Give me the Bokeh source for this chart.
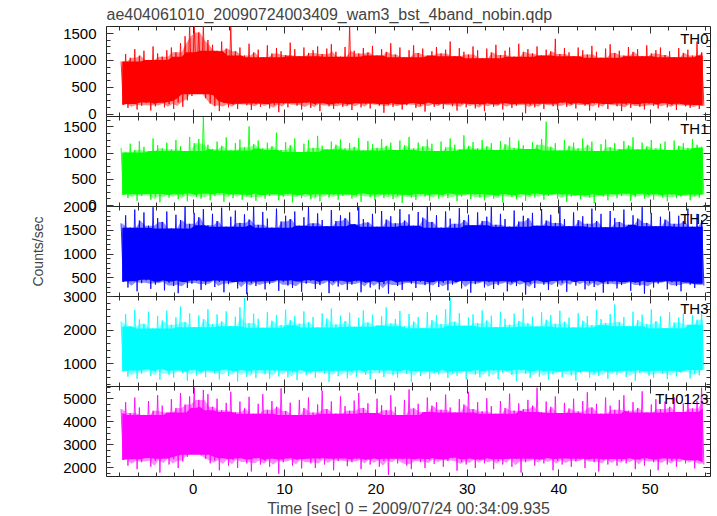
import numpy as np
from numpy.lib.stride_tricks import sliding_window_view
from bokeh.plotting import figure
from bokeh.models import Range1d, LinearAxis, SingleIntervalTicker, Label
from bokeh.layouts import column
from bokeh.embed import file_html
from bokeh.resources import INLINE

TITLE = "ae404061010_20090724003409_wam3_bst_4band_nobin.qdp"
X_LABEL = "Time [sec] 0 = 2009/07/24 00:34:09.935"
Y_LABEL = "Counts/sec"

# time bins (0.5 s) covering the burst-data window -8 s .. +56 s
t_first = -7.75
bin_width = 0.5
n_bins = 128

# per-bin maximum / minimum (counts/sec)
th0_hi = [980, 1120, 1050, 1210, 1090, 1180, 1010, 1260, 1130, 1070,
          1190, 1240, 1150, 1320, 1450, 1640, 1640, 1520, 1640, 1380,
          1290, 1180, 1350, 1220, 1640, 1170, 1240, 1090, 1310, 1150,
          1200, 1060, 1280, 1130, 1230, 1170, 1100, 1330, 1210, 1080,
          1240, 1140, 1190, 1260, 1120, 1220, 1300, 1160, 1070, 1250,
          1640, 1180, 1130, 1230, 1150, 1270, 1090, 1210, 1160, 1320,
          1110, 1240, 1060, 1190, 1280, 1140, 1220, 1090, 1170, 1250,
          1130, 1200, 1350, 1080, 1230, 1160, 1110, 1260, 1190, 1040,
          1220, 1150, 1290, 1100, 1180, 1240, 1070, 1310, 1160, 1210,
          1130, 1260, 1090, 1200, 1170, 1400, 1120, 1230, 1150, 1080,
          1240, 1190, 1110, 1270, 1160, 1050, 1220, 1300, 1140, 1180,
          1090, 1250, 1160, 1210, 1080, 1280, 1130, 1190, 1240, 1100,
          1170, 1060, 1230, 1140, 1200, 1090, 1350, 1150]
th0_lo = [180, 120, 230, 90, 160, 210, 70, 150, 240, 130,
          190, 100, 220, 140, 260, 340, 620, 420, 300, 200,
          150, 60, 210, 130, 180, 100, 240, 170, 80, 190,
          140, 220, 110, 170, 40, 200, 130, 250, 160, 90,
          210, 120, 180, 60, 230, 150, 100, 200, 140, 170,
          80, 220, 130, 190, 110, 250, 160, 30, 180, 140,
          200, 90, 170, 230, 120, 160, 50, 210, 140, 180,
          100, 240, 150, 70, 190, 130, 220, 110, 170, 60,
          200, 140, 180, 90, 230, 120, 160, 210, 20, 170,
          130, 190, 100, 240, 150, 80, 210, 140, 180, 110,
          230, 160, 70, 200, 130, 190, 100, 250, 150, 60,
          180, 120, 220, 140, 90, 200, 160, 110, 230, 130,
          170, 80, 210, 150, 120, 190, 100, 160]

th1_hi = [1100, 1010, 1180, 1060, 1230, 1120, 1040, 1280, 1150, 1090,
          1200, 1070, 1250, 1130, 1040, 1310, 1190, 1270, 1690, 1160,
          1080, 1220, 1140, 1300, 1050, 1190, 1260, 1110, 1510, 1170,
          1240, 1090, 1200, 1130, 1390, 1060, 1210, 1150, 1280, 1020,
          1180, 1250, 1100, 1330, 1140, 1070, 1220, 1160, 1260, 1090,
          1190, 1120, 1290, 1050, 1230, 1170, 1100, 1270, 1140, 1200,
          1060, 1240, 1150, 1310, 1090, 1200, 1130, 1260, 1180, 1040,
          1220, 1110, 1280, 1160, 1070, 1340, 1140, 1210, 1090, 1250,
          1130, 1190, 1060, 1230, 1170, 1300, 1100, 1240, 1150, 1080,
          1210, 1160, 1270, 1600, 1120, 1190, 1050, 1250, 1140, 1200,
          1090, 1280, 1160, 1220, 1040, 1170, 1260, 1110, 1190, 1080,
          1230, 1150, 1300, 1070, 1200, 1130, 1250, 1090, 1180, 1220,
          1060, 1240, 1140, 1190, 1100, 1270, 1160, 1120]
th1_lo = [200, 140, 250, 90, 180, 230, 110, 170, 60, 210,
          150, 240, 120, 190, 80, 220, 160, 130, 250, 100,
          180, 230, 70, 200, 140, 260, 110, 190, 150, 90,
          220, 130, 180, 240, 100, 170, 210, 60, 190, 140,
          250, 120, 170, 80, 230, 150, 200, 110, 180, 240,
          130, 190, 70, 220, 160, 100, 240, 140, 200, 120,
          180, 50, 230, 150, 110, 210, 170, 90, 240, 130,
          190, 140, 220, 80, 170, 250, 120, 200, 150, 100,
          230, 130, 180, 60, 210, 160, 120, 240, 90, 190,
          150, 220, 110, 180, 250, 130, 200, 70, 170, 230,
          120, 190, 150, 40, 210, 170, 100, 240, 140, 180,
          220, 90, 160, 230, 130, 190, 110, 250, 150, 80,
          200, 140, 170, 230, 100, 180, 150, 210]

th2_hi = [1650, 1820, 1560, 1940, 1710, 1880, 1600, 1990, 1760, 1680,
          1900, 1540, 1830, 1720, 2000, 1640, 1870, 1780, 1950, 1610,
          1850, 1700, 1980, 1580, 1790, 1920, 1660, 1840, 1730, 2000,
          1620, 1890, 1750, 1560, 1960, 1690, 1810, 1740, 1900, 1600,
          1780, 2000, 1650, 1860, 1720, 1590, 1930, 1700, 1820, 1760,
          1880, 1630, 1990, 1740, 1670, 1850, 1580, 1910, 1730, 1800,
          1650, 1950, 1710, 1840, 1600, 1890, 1770, 2000, 1680, 1820,
          1560, 1900, 1750, 1640, 1970, 1720, 1830, 1610, 1880, 1700,
          1790, 1990, 1620, 1850, 1740, 1580, 1920, 1690, 1810, 1760,
          1870, 1600, 1950, 1710, 1830, 1660, 2000, 1740, 1590, 1880,
          1720, 1800, 1640, 1960, 1700, 1850, 1570, 1910, 1760, 1680,
          1940, 1620, 1820, 1750, 1990, 1660, 1870, 1590, 1790, 1730,
          1900, 1640, 1810, 1700, 1960, 1580, 1850, 1720]
th2_lo = [420, 300, 480, 220, 390, 450, 270, 360, 510, 240,
          400, 330, 180, 460, 290, 380, 440, 250, 350, 490,
          310, 420, 200, 370, 470, 280, 410, 160, 390, 330,
          450, 260, 370, 500, 230, 420, 340, 290, 470, 210,
          380, 440, 270, 350, 490, 180, 410, 320, 460, 250,
          360, 430, 200, 400, 300, 480, 260, 370, 170, 440,
          330, 250, 460, 380, 290, 420, 350, 200, 470, 310,
          400, 240, 360, 490, 280, 430, 190, 370, 450, 300,
          410, 270, 350, 480, 220, 390, 330, 460, 150, 380,
          290, 440, 360, 250, 470, 320, 400, 210, 430, 340,
          480, 260, 390, 310, 450, 190, 370, 420, 280, 350,
          460, 230, 400, 340, 170, 430, 300, 380, 490, 260,
          410, 330, 220, 450, 360, 290, 400, 340]

th3_hi = [2250, 2480, 2110, 2600, 2320, 2190, 2550, 2050, 2420, 2290,
          2580, 2160, 2380, 2700, 2240, 2500, 2090, 2440, 2330, 2620,
          2180, 2470, 2260, 2560, 2120, 2400, 2680, 2950, 2210, 2490,
          2340, 2070, 2530, 2280, 2450, 2150, 2610, 2300, 2420, 2190,
          2560, 2240, 2390, 2080, 2500, 2350, 2640, 2170, 2430, 2270,
          2520, 2100, 2370, 2590, 2230, 2460, 2140, 2410, 2680, 2200,
          2330, 2570, 2120, 2480, 2260, 2390, 2060, 2540, 2300, 2440,
          2180, 2620, 2960, 2250, 2510, 2130, 2380, 2470, 2210, 2590,
          2290, 2430, 2090, 2550, 2340, 2160, 2490, 2270, 2640, 2200,
          2400, 2110, 2530, 2310, 2450, 2190, 2580, 2250, 2370, 2080,
          2500, 2280, 2420, 2150, 2600, 2330, 2210, 2480, 2760, 2240,
          2390, 2120, 2550, 2300, 2460, 2180, 2620, 2270, 2410, 2060,
          2530, 2230, 2380, 2490, 2160, 2440, 2310, 2570]
th3_lo = [780, 620, 850, 560, 710, 900, 640, 760, 530, 820,
          680, 590, 870, 730, 500, 800, 660, 740, 610, 880,
          700, 540, 820, 650, 770, 480, 860, 620, 720, 580,
          840, 690, 560, 790, 630, 910, 600, 750, 520, 810,
          670, 740, 590, 860, 710, 460, 780, 640, 830, 570,
          750, 620, 890, 680, 540, 800, 720, 610, 850, 660,
          590, 820, 700, 470, 770, 640, 880, 560, 730, 690,
          810, 580, 720, 650, 900, 530, 760, 680, 600, 840,
          630, 790, 550, 740, 860, 670, 490, 810, 700, 580,
          850, 620, 760, 540, 690, 830, 600, 780, 660, 510,
          740, 870, 590, 710, 640, 800, 560, 750, 680, 830,
          610, 770, 500, 720, 860, 650, 590, 800, 700, 550,
          790, 630, 740, 880, 570, 710, 660, 820]

th0123_hi = [4550, 4850, 4380, 5050, 4620, 4300, 4900, 4480, 5150, 4700,
             4400, 4980, 4600, 5250, 4750, 5100, 5480, 4950, 5380, 5200,
             4650, 5000, 4500, 4820, 5300, 4420, 4880, 4580, 5080, 4350,
             4780, 5200, 4520, 4900, 4650, 5450, 4470, 4830, 4300, 4950,
             4600, 5050, 4400, 4750, 5350, 4550, 4880, 4350, 5100, 4680,
             4480, 4920, 5250, 4600, 4800, 4380, 5000, 4720, 4500, 5150,
             4650, 4300, 4950, 5400, 4580, 4780, 4420, 5050, 4700, 4850,
             4520, 5180, 4620, 4400, 4980, 4750, 5300, 4550, 4850, 4450,
             5020, 4680, 4350, 4900, 4600, 5220, 4480, 4800, 4550, 4950,
             4700, 5480, 4420, 4880, 4650, 5100, 4380, 4820, 4580, 5000,
             4450, 4900, 5280, 4620, 4780, 4350, 5050, 4700, 4520, 4950,
             5150, 4480, 4850, 4600, 5320, 4400, 4750, 4980, 4550, 4880,
             4650, 5050, 4420, 4800, 5200, 4580, 4900, 5480]
th0123_lo = [2350, 2100, 2500, 1950, 2250, 2420, 2050, 2300, 1800, 2450,
             2150, 2380, 2000, 2280, 2480, 2600, 2700, 2550, 2400, 2200,
             2320, 1900, 2450, 2100, 2350, 2000, 2500, 2200, 1850, 2400,
             2150, 2300, 2050, 2480, 1750, 2250, 2400, 2100, 2350, 1980,
             2450, 2200, 2000, 2380, 2150, 2500, 1900, 2300, 2420, 2080,
             2250, 2400, 1950, 2350, 2150, 2480, 2050, 2300, 1700, 2420,
             2200, 2380, 2100, 1950, 2450, 2250, 2000, 2350, 2180, 2500,
             2050, 2300, 2420, 1880, 2250, 2150, 2480, 2000, 2350, 2200,
             2400, 1950, 2300, 2150, 2500, 2050, 2380, 1800, 2250, 2420,
             2100, 2350, 2200, 2480, 1900, 2300, 2150, 2450, 2050, 2280,
             2380, 2000, 2420, 2250, 1850, 2350, 2150, 2480, 2100, 2300,
             2200, 2450, 1950, 2350, 2100, 2400, 2250, 1900, 2480, 2150,
             2300, 2050, 2420, 2200, 2380, 1980, 2300, 2150]

panel_names = ["TH0", "TH1", "TH2", "TH3", "TH0123"]
panel_colors = ["#ff0000", "#00ff00", "#0000ff", "#00ffff", "#ff00ff"]
panel_yranges = [(-40, 1630), (-20, 1700), (110, 2005), (330, 3000), (1630, 5530)]
panel_ytick = [500, 500, 500, 1000, 1000]
panel_yminor = [4, 4, 5, 5, 4]
panel_hi = [th0_hi, th1_hi, th2_hi, th3_hi, th0123_hi]
panel_lo = [th0_lo, th1_lo, th2_lo, th3_lo, th0123_lo]

FONT = "Liberation Sans"
TICK_COLOR = "#333333"
PAD = 10  # transparent overlap border between stacked panels

time = t_first + bin_width * np.arange(n_bins)
xs = np.empty(2 * n_bins)
xs[0::2] = time - bin_width / 4
xs[1::2] = time + bin_width / 4

x_range = Range1d(-9.47, 56.6)


def rolling(arr, fn, w, **kw):
    a = np.pad(np.asarray(arr, dtype=float), w // 2, mode="edge")
    return fn(sliding_window_view(a, w), axis=1, **kw)


def tick_style(ax):
    ax.axis_line_color = None
    ax.major_tick_in = 7
    ax.major_tick_out = 0
    ax.minor_tick_in = 4
    ax.minor_tick_out = 0
    ax.major_tick_line_color = TICK_COLOR
    ax.minor_tick_line_color = TICK_COLOR
    ax.major_label_text_font = FONT
    ax.major_label_text_color = "black"
    ax.major_label_text_font_size = "15px"


def hide_labels(ax):
    ax.major_label_text_color = None
    ax.major_label_standoff = 0


figs = []
for k in range(5):
    first = k == 0
    last = k == 4
    y0, y1 = panel_yranges[k]
    p = figure(frame_width=604, frame_height=90,
               x_range=x_range, y_range=Range1d(y0, y1),
               output_backend="svg", toolbar_location=None,
               min_border_left=106, min_border_right=6,
               min_border_top=0 if first else PAD,
               min_border_bottom=PAD,
               background_fill_color="white",
               border_fill_color="white", border_fill_alpha=0.0,
               outline_line_color="#222222", outline_line_width=1)
    if not first:
        p.margin = (-2 * PAD, 0, 0, 0)
    if first:
        p.title.text = TITLE
        p.title.text_font = FONT
        p.title.text_font_size = "16px"
        p.title.text_font_style = "normal"
        p.title.align = "left"
        p.title.offset = 0
        p.title.standoff = 7
    p.xgrid.visible = False
    p.ygrid.visible = False

    xt = SingleIntervalTicker(interval=10, num_minor_ticks=5)
    yt = SingleIntervalTicker(interval=panel_ytick[k], num_minor_ticks=panel_yminor[k])

    bx = p.xaxis[0]
    bx.ticker = xt
    tick_style(bx)
    if last:
        bx.axis_label = X_LABEL
        bx.axis_label_text_font = FONT
        bx.axis_label_text_font_size = "16px"
        bx.axis_label_text_font_style = "normal"
        bx.axis_label_standoff = 3
        bx.major_label_standoff = 7
    else:
        bx.fixed_location = y0
        hide_labels(bx)

    ly = p.yaxis[0]
    ly.ticker = yt
    tick_style(ly)
    ly.major_label_standoff = 10
    if k == 2:
        ly.axis_label = Y_LABEL
        ly.axis_label_text_font = FONT
        ly.axis_label_text_font_size = "14px"
        ly.axis_label_text_font_style = "normal"
        ly.axis_label_standoff = 14

    top = LinearAxis(ticker=xt, fixed_location=y1)
    tick_style(top)
    hide_labels(top)
    p.add_layout(top, "above")
    right = LinearAxis(ticker=yt, fixed_location=x_range.end)
    tick_style(right)
    hide_labels(right)
    p.add_layout(right, "right")

    c = panel_colors[k]
    hi = np.asarray(panel_hi[k], dtype=float)
    lo = np.asarray(panel_lo[k], dtype=float)
    # soft outer part and dense inner part of the noise band
    p.varea(x=time, y1=rolling(lo, np.percentile, 3, q=60),
            y2=rolling(hi, np.min, 3),
            fill_color=c, fill_alpha=0.45)
    p.varea(x=time, y1=rolling(lo, np.percentile, 9, q=80),
            y2=rolling(hi, np.min, 9),
            fill_color=c, fill_alpha=1.0)
    ys = np.empty(2 * n_bins)
    ys[0::2] = hi
    ys[1::2] = lo
    p.line(xs, ys, line_color=c, line_width=1, line_alpha=0.85)

    p.add_layout(Label(x=x_range.end, y=y1, text=panel_names[k],
                       text_align="right", text_baseline="top",
                       x_offset=-2, y_offset=-3,
                       text_font=FONT, text_font_size="15px",
                       text_color="black"))
    figs.append(p)

layout = column(*figs, spacing=0)
open("out.html", "w").write(file_html(layout, INLINE))
